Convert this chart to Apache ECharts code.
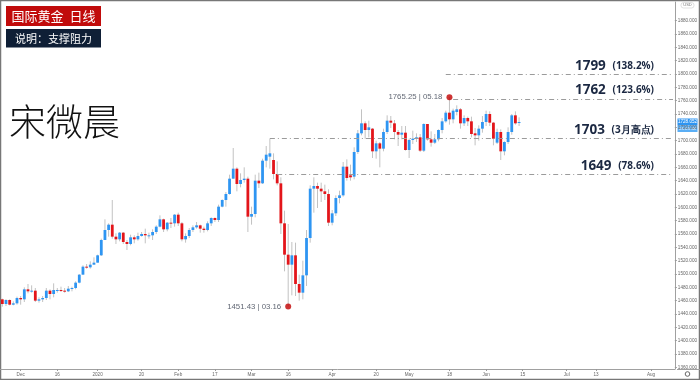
<!DOCTYPE html>
<html><head><meta charset="utf-8">
<script src="https://cdn.jsdelivr.net/npm/echarts/dist/echarts.min.js"></script>
<style>html,body{margin:0;padding:0;background:#fff;}#c{width:700px;height:380px;}</style>
</head><body><div id="c"></div>
<script>
// ---- data (XAUUSD daily) ----
const dates = ['2019-11-25','2019-11-26','2019-11-27','2019-11-28','2019-11-29',
'2019-12-02','2019-12-03','2019-12-04','2019-12-05','2019-12-06','2019-12-09','2019-12-10','2019-12-11','2019-12-12','2019-12-13',
'2019-12-16','2019-12-17','2019-12-18','2019-12-19','2019-12-20','2019-12-23','2019-12-24','2019-12-26','2019-12-27','2019-12-30','2019-12-31',
'2020-01-02','2020-01-03','2020-01-06','2020-01-07','2020-01-08','2020-01-09','2020-01-10','2020-01-13','2020-01-14','2020-01-15','2020-01-16','2020-01-17',
'2020-01-20','2020-01-21','2020-01-22','2020-01-23','2020-01-24','2020-01-27','2020-01-28','2020-01-29','2020-01-30','2020-01-31',
'2020-02-03','2020-02-04','2020-02-05','2020-02-06','2020-02-07','2020-02-10','2020-02-11','2020-02-12','2020-02-13','2020-02-14',
'2020-02-17','2020-02-18','2020-02-19','2020-02-20','2020-02-21','2020-02-24','2020-02-25','2020-02-26','2020-02-27','2020-02-28',
'2020-03-02','2020-03-03','2020-03-04','2020-03-05','2020-03-06','2020-03-09','2020-03-10','2020-03-11','2020-03-12','2020-03-13',
'2020-03-16','2020-03-17','2020-03-18','2020-03-19','2020-03-20','2020-03-23','2020-03-24','2020-03-25','2020-03-26','2020-03-27','2020-03-30','2020-03-31',
'2020-04-01','2020-04-02','2020-04-03','2020-04-06','2020-04-07','2020-04-08','2020-04-09','2020-04-13','2020-04-14','2020-04-15','2020-04-16','2020-04-17',
'2020-04-20','2020-04-21','2020-04-22','2020-04-23','2020-04-24','2020-04-27','2020-04-28','2020-04-29','2020-04-30',
'2020-05-01','2020-05-04','2020-05-05','2020-05-06','2020-05-07','2020-05-08','2020-05-11','2020-05-12','2020-05-13','2020-05-14','2020-05-15',
'2020-05-18','2020-05-19','2020-05-20','2020-05-21','2020-05-22','2020-05-25','2020-05-26','2020-05-27','2020-05-28','2020-05-29',
'2020-06-01','2020-06-02','2020-06-03','2020-06-04','2020-06-05','2020-06-08','2020-06-09','2020-06-10','2020-06-11','2020-06-12'];
const opens = [1462,1455,1461,1454,1456,
1464,1462,1477,1474,1475,1460,1462,1464,1475,1470,
1476,1476,1475,1474,1478,1479,1487,1499,1511,1510,1514,
1517,1528,1551,1566,1574,1556,1552,1562,1548,1545,1555,1552,
1557,1560,1558,1558,1563,1571,1582,1567,1577,1576,
1589,1576,1552,1557,1566,1570,1573,1568,1566,1576,
1584,1581,1601,1611,1620,1643,1658,1635,1641,1643,
1586,1590,1640,1636,1670,1676,1671,1650,1636,1576,
1529,1514,1528,1485,1472,1498,1554,1628,1632,1628,1624,1620,
1577,1591,1614,1618,1661,1648,1646,1683,1711,1726,1716,1718,
1684,1696,1688,1713,1730,1726,1713,1709,1712,
1686,1701,1703,1705,1685,1725,1702,1697,1702,1716,1729,
1742,1732,1743,1747,1726,1734,1729,1711,1708,1718,
1728,1740,1727,1697,1713,1684,1698,1713,1738,1727];
const highs = [1463,1462,1462,1459,1466,
1467,1480,1485,1483,1479,1465,1467,1479,1477,1486,
1479,1481,1479,1482,1481,1489,1500,1513,1515,1519,1525,
1529,1553,1582,1576,1611,1561,1563,1563,1551,1559,1558,1562,
1563,1568,1562,1567,1573,1588,1583,1578,1584,1590,
1592,1578,1561,1569,1573,1578,1574,1571,1579,1585,
1585,1604,1612,1623,1649,1689,1660,1651,1660,1646,
1601,1649,1652,1673,1692,1703,1681,1669,1645,1595,
1575,1548,1547,1499,1520,1566,1633,1645,1637,1637,1634,1627,
1596,1618,1625,1668,1672,1664,1690,1716,1747,1729,1730,1719,
1700,1698,1718,1738,1737,1731,1716,1722,1722,
1703,1715,1711,1710,1726,1725,1714,1710,1717,1734,1745,
1765.25,1748,1753,1749,1738,1736,1736,1719,1723,1737,
1745,1744,1728,1718,1717,1699,1720,1740,1744,1735];
const lows = [1451,1452,1453,1453,1454,
1454,1458,1471,1472,1458,1457,1458,1461,1462,1465,
1472,1473,1472,1473,1474,1477,1486,1499,1508,1508,1514,
1517,1527,1551,1556,1553,1545,1549,1545,1536,1543,1546,1550,
1556,1546,1553,1551,1560,1570,1563,1564,1569,1571,
1572,1549,1547,1554,1563,1568,1562,1562,1564,1572,
1578,1578,1600,1601,1619,1643,1624,1630,1637,1563,
1574,1585,1629,1635,1660,1658,1642,1633,1560,1504,
1451.43,1468,1467,1460,1462,1482,1547,1592,1599,1608,1611,1572,
1573,1587,1606,1616,1640,1640,1642,1680,1708,1703,1705,1674,
1673,1660,1684,1710,1719,1702,1692,1702,1685,
1674,1695,1698,1683,1683,1700,1691,1695,1699,1711,1727,
1724,1726,1738,1718,1722,1722,1705,1693,1700,1712,
1722,1722,1693,1695,1671,1678,1695,1709,1724,1722];
const closes = [1455,1461,1454,1456,1464,
1462,1477,1474,1475,1460,1462,1464,1475,1470,1476,
1476,1475,1474,1478,1479,1487,1499,1511,1510,1514,1517,
1528,1551,1566,1574,1556,1552,1562,1548,1545,1555,1552,1557,
1560,1558,1558,1563,1571,1582,1567,1577,1576,1589,
1576,1552,1557,1566,1570,1573,1568,1566,1576,1584,
1581,1601,1611,1620,1643,1658,1635,1641,1643,1586,
1590,1640,1636,1670,1679,1681,1650,1636,1576,1529,
1514,1528,1485,1472,1498,1554,1628,1632,1628,1624,1620,1577,
1591,1614,1618,1661,1644,1645,1683,1711,1726,1716,1720,1684,
1696,1688,1713,1730,1727,1713,1709,1712,1686,
1701,1703,1705,1685,1725,1702,1697,1702,1716,1729,1742,
1732,1745,1747,1726,1734,1729,1710,1708,1718,1728,
1740,1727,1703,1713,1684,1698,1713,1738,1726,1728];
// empty future slots on the time scale
const futureDates = ['2020-06-15','2020-06-16','2020-06-17','2020-06-18','2020-06-19','2020-06-22','2020-06-23','2020-06-24','2020-06-25','2020-06-26',
'2020-06-29','2020-06-30','2020-07-01','2020-07-02','2020-07-03','2020-07-06','2020-07-07','2020-07-08','2020-07-09','2020-07-10',
'2020-07-13','2020-07-14','2020-07-15','2020-07-16','2020-07-17','2020-07-20','2020-07-21','2020-07-22','2020-07-23','2020-07-24',
'2020-07-27','2020-07-28','2020-07-29','2020-07-30','2020-07-31','2020-08-03','2020-08-04','2020-08-05','2020-08-06','2020-08-07',
'2020-08-10','2020-08-11'];
const xTickDates = ['2019-12-02','2019-12-16','2020-01-02','2020-01-20','2020-02-03','2020-02-17','2020-03-02','2020-03-16','2020-04-01','2020-04-20','2020-05-01','2020-05-18','2020-06-01','2020-06-15','2020-07-01','2020-07-13','2020-08-03'];
const xTickTexts = ['Dec','16','2020','20','Feb','17','Mar','16','Apr','20','May','18','Jun','15','Jul','13','Aug'];
const yTicks = [1360,1380,1400,1420,1440,1460,1480,1500,1520,1540,1560,1580,1600,1620,1640,1660,1680,1700,1720,1740,1760,1780,1800,1820,1840,1860,1880];
const levelPrices = [1799, 1762, 1703, 1649];
const levelTags = ['(138.2%)', '(123.6%)', '(3月高点)', '(78.6%)'];
const levelFrom = ['2020-05-15', '2020-05-19', '2020-03-09', '2020-03-11'];
const extremeDates = ['2020-05-18', '2020-03-16'];
const extremePrices = [1765.25, 1451.43];
const extremeTexts = ['1765.25 | 05.18', '1451.43 | 03.16'];
const lastPrice = 1728.052;
const lastPriceTimer = '05:03:38';

// ---- build ----
const allDates = dates.concat(futureDates);
const tickMap = {};
xTickDates.forEach((d, i) => tickMap[d] = xTickTexts[i]);
const candleData = dates.map((d, i) => [i, opens[i], closes[i], lows[i], highs[i]]);
const UP = '#2e95f2', DOWN = '#e3151a', WICK = '#c2c2c2';
const lastCat = allDates[allDates.length - 1];

const chart = echarts.init(document.getElementById('c'));
const tickFn = (idx, val) => tickMap[val] !== undefined;
chart.setOption({
  animation: false,
  grid: { left: 0.5, top: 2, width: 676.75, height: 367 },
  xAxis: {
    type: 'category', data: allDates, boundaryGap: true,
    axisLine: { lineStyle: { color: '#a0a0a0', width: 1 } },
    axisTick: { show: true, interval: tickFn, alignWithLabel: true, length: 2, lineStyle: { color: '#999' } },
    axisLabel: { interval: tickFn, formatter: v => tickMap[v] || '', fontSize: 4.6, color: '#666', margin: 3, fontFamily: 'Liberation Sans' },
    splitLine: { show: false }
  },
  yAxis: {
    type: 'value', position: 'right', min: 1357.5, max: 1908, scale: true,
    axisLine: { show: true, lineStyle: { color: '#a0a0a0' } },
    axisTick: { show: true, length: 2, customValues: yTicks, lineStyle: { color: '#999' } },
    axisLabel: { customValues: yTicks, formatter: v => v.toFixed(3), fontSize: 4.6, color: '#666', margin: 3, fontFamily: 'Liberation Sans' },
    splitLine: { show: false }
  },
  series: [
    {
      type: 'custom', name: 'XAUUSD', data: candleData,
      encode: { x: 0, y: [1, 2, 3, 4] },
      renderItem: (params, api) => {
        const i = api.value(0), o = api.value(1), c = api.value(2), l = api.value(3), h = api.value(4);
        const pO = api.coord([i, o]), pC = api.coord([i, c]), pL = api.coord([i, l]), pH = api.coord([i, h]);
        const w = 2.8;
        const top = Math.min(pO[1], pC[1]);
        const hh = Math.max(Math.abs(pO[1] - pC[1]), 1);
        const col = c >= o ? UP : DOWN;
        return { type: 'group', children: [
          { type: 'line', shape: { x1: pH[0], y1: pH[1], x2: pL[0], y2: pL[1] }, style: { stroke: WICK, lineWidth: 1 } },
          { type: 'rect', shape: { x: pO[0] - w / 2, y: top, width: w, height: hh }, style: { fill: col } }
        ]};
      },
      markLine: {
        silent: true, symbol: ['none', 'none'],
        lineStyle: { color: '#9b9b9b', width: 1, type: [5, 3, 1, 3] },
        label: {
          show: true, position: 'insideEndTop', distance: [19, 2],
          rich: {
            a: { fontSize: 13.5, fontWeight: 'bold', color: '#1b2842', fontFamily: 'Open Sans' },
            b: { fontSize: 10, fontWeight: 'bold', color: '#1b2842', fontFamily: 'Open Sans' }
          }
        },
        data: levelPrices.map((p, k) => [
          { coord: [levelFrom[k], p], label: { formatter: '{a|' + p + '}  {b|' + levelTags[k] + '}' } },
          { coord: [lastCat, p] }
        ])
      }
    },
    {
      type: 'scatter', name: 'extremes', symbol: 'circle', symbolSize: 6,
      itemStyle: { color: '#c00000' },
      data: extremeDates.map((d, k) => ({ value: [d, extremePrices[k]], label: { formatter: extremeTexts[k] } })),
      label: { show: true, position: 'left', distance: 4, fontSize: 7.8, color: '#3a4150', fontFamily: 'Liberation Sans' },
      z: 5
    }
  ],
  graphic: [
    { type: 'rect', shape: { x: 0.5, y: 0.5, width: 699, height: 379 }, style: { fill: 'none', stroke: '#777', lineWidth: 1.5 }, silent: true },
    { type: 'line', shape: { x1: 677, y1: 369.5, x2: 700, y2: 369.5 }, style: { stroke: '#a0a0a0', lineWidth: 1 } },
    { type: 'circle', shape: { cx: 687.5, cy: 374, r: 2.3 }, style: { fill: 'none', stroke: '#666', lineWidth: 1 } },
    { type: 'rect', shape: { x: 681, y: 2.5, width: 13, height: 5.5, r: 2.5 }, style: { fill: '#fff', stroke: '#ccc', lineWidth: 0.6 } },
    { type: 'text', x: 687.5, y: 5.3, style: { text: 'USD', fontSize: 4, fill: '#777', align: 'center', verticalAlign: 'middle', fontFamily: 'Liberation Sans' } },
    { type: 'rect', shape: { x: 677.5, y: 118.5, width: 20, height: 7 }, style: { fill: '#2e95f2' } },
    { type: 'text', x: 687.5, y: 122.2, style: { text: lastPrice.toFixed(3), fontSize: 4.6, fill: '#fff', align: 'center', verticalAlign: 'middle', fontFamily: 'Liberation Sans' } },
    { type: 'rect', shape: { x: 677.5, y: 125.5, width: 20, height: 6.5 }, style: { fill: '#5aaef5' } },
    { type: 'text', x: 687.5, y: 128.9, style: { text: lastPriceTimer, fontSize: 4.4, fill: '#fff', align: 'center', verticalAlign: 'middle', fontFamily: 'Liberation Sans' } },
    { type: 'rect', shape: { x: 6, y: 6, width: 95, height: 20 }, style: { fill: '#c10b0b' } },
    { type: 'text', x: 53.5, y: 16, style: { text: '国际黄金  日线', fontSize: 13, fill: '#fff', align: 'center', verticalAlign: 'middle', fontFamily: 'Noto Sans CJK SC' } },
    { type: 'rect', shape: { x: 6, y: 29, width: 95, height: 18.5 }, style: { fill: '#0f1f36' } },
    { type: 'text', x: 53.5, y: 38.5, style: { text: '说明：支撑阻力', fontSize: 11, fill: '#fff', align: 'center', verticalAlign: 'middle', fontFamily: 'Noto Sans CJK SC' } },
    { type: 'text', x: 9, y: 122, style: { text: '宋微晨', fontSize: 37, fontWeight: 300, fill: '#111', verticalAlign: 'middle', fontFamily: 'Noto Sans CJK SC' } }
  ]
});
</script></body></html>
